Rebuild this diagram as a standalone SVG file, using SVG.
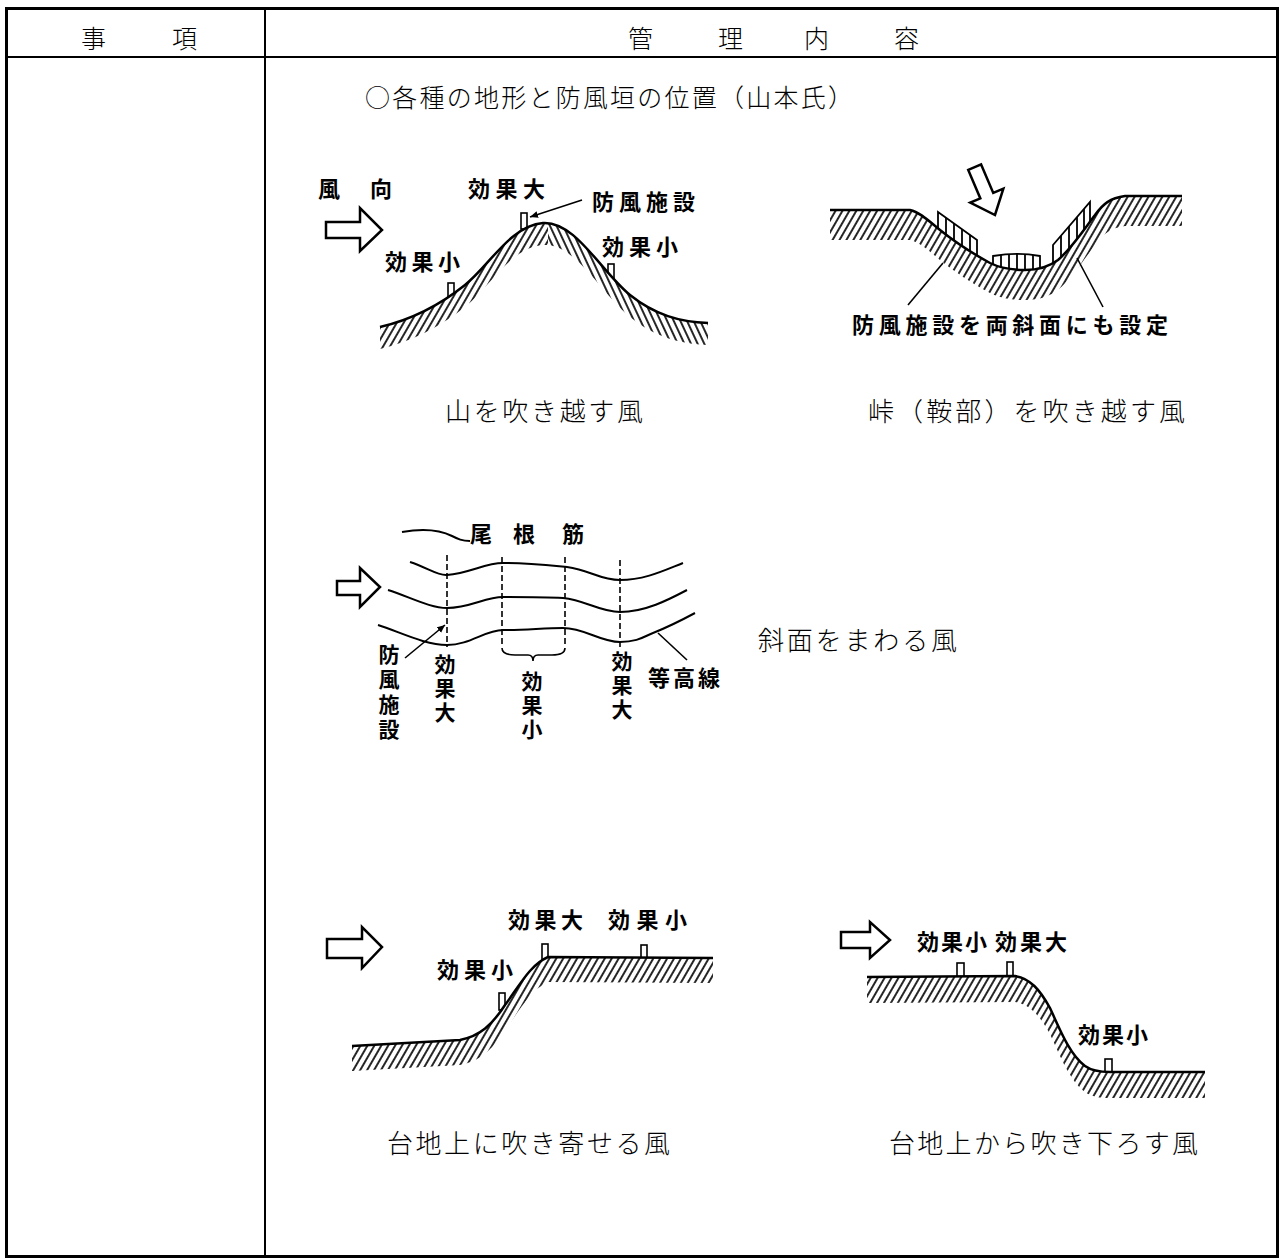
<svg xmlns="http://www.w3.org/2000/svg" width="1279" height="1259" viewBox="0 0 1279 1259">
  <defs>
    <style>
      .rule{fill:none;stroke:#000}
      .hd{font-family:"Noto Sans CJK JP",sans-serif;font-weight:300;font-size:25px}
      .cap{font-family:"Noto Sans CJK JP",sans-serif;font-weight:300;font-size:26px}
      .lbl{font-family:"Noto Sans CJK JP",sans-serif;font-weight:700;font-size:22px}
      .vl{font-family:"Noto Sans CJK JP",sans-serif;font-weight:700;font-size:21px;writing-mode:vertical-rl;letter-spacing:3px}
      .under{fill:#fff}
      .ground{fill:url(#hatch)}
      .ground-r{fill:url(#hatch-r)}
      .surface{fill:none;stroke:#000;stroke-width:2.5;stroke-linejoin:round}
      .post{fill:#fff;stroke:#000;stroke-width:1.6}
      .fence{fill:#fff;stroke:#000;stroke-width:1.8}
      .bar{stroke:#000;stroke-width:1.8}
      .blk{fill:#fff;stroke:#000;stroke-width:2.5;stroke-linejoin:miter}
      .lead{fill:none;stroke:#000;stroke-width:1.6}
      .contour{fill:none;stroke:#000;stroke-width:2}
      .dash{fill:none;stroke:#000;stroke-width:1.6;stroke-dasharray:6 3}
    </style>
    <!-- ground hatching, leaning right (/) and left (\) -->
    <pattern id="hatch" width="6" height="6" patternUnits="userSpaceOnUse" patternTransform="rotate(30)">
      <line x1="1" y1="0" x2="1" y2="6" stroke="#000" stroke-width="1.7"/>
    </pattern>
    <pattern id="hatch-r" width="6" height="6" patternUnits="userSpaceOnUse" patternTransform="rotate(-25)">
      <line x1="1" y1="0" x2="1" y2="6" stroke="#000" stroke-width="1.7"/>
    </pattern>
    <clipPath id="mt-left"><rect x="370" y="200" width="178" height="160"/></clipPath>
    <clipPath id="mt-right"><rect x="548" y="200" width="170" height="160"/></clipPath>
    <marker id="tip" markerWidth="9" markerHeight="8" refX="8" refY="4" orient="auto" markerUnits="userSpaceOnUse">
      <path d="M0,0.5 L8,4 L0,7.5 Z" fill="#000"/>
    </marker>
  </defs>

  <!-- table frame -->
  <g id="table">
    <rect class="rule" x="6.5" y="8.5" width="1271" height="1248" stroke-width="3"/>
    <line class="rule" x1="6" y1="57" x2="1278" y2="57" stroke-width="2"/>
    <line class="rule" x1="265" y1="8" x2="265" y2="1257" stroke-width="2"/>
    <text class="hd" x="81" y="48">事</text>
    <text class="hd" x="172" y="48">項</text>
    <text class="hd" x="628" y="48">管</text>
    <text class="hd" x="718" y="48">理</text>
    <text class="hd" x="804" y="48">内</text>
    <text class="hd" x="894" y="48">容</text>
    <text class="hd" x="365" y="107" textLength="488" lengthAdjust="spacing">○各種の地形と防風垣の位置（山本氏）</text>
  </g>

  <!-- wind crossing over a mountain -->
  <g id="fig-mountain">
    <text class="lbl" x="318" y="197">風</text>
    <text class="lbl" x="370" y="197">向</text>
    <text class="lbl" x="468" y="197" textLength="77" lengthAdjust="spacing">効果大</text>
    <text class="lbl" x="592" y="210" font-size="24" textLength="103" lengthAdjust="spacing">防風施設</text>
    <text class="lbl" x="385" y="270" textLength="75" lengthAdjust="spacing">効果小</text>
    <text class="lbl" x="602" y="255" textLength="76" lengthAdjust="spacing">効果小</text>
    <path class="blk" d="M326,222 L360,222 L360,208 L382,230 L360,251 L360,238 L326,238 Z"/>
    <line class="lead" x1="582" y1="200" x2="530" y2="217" marker-end="url(#tip)"/>
    <rect class="post" x="448" y="283" width="6" height="16"/>
    <rect class="post" x="521" y="213" width="6" height="16"/>
    <rect class="post" x="608" y="264" width="6" height="16"/>
    <path class="under" d="M380,327 C410,320 440,305 465,285 C490,265 510,226 543,223 C575,221 600,270 630,295 C655,315 680,322 708,323 L708,345 C680,344 655,337 630,317 C600,292 575,243 543,245 C510,248 490,287 465,307 C440,327 410,342 380,349 Z"/>
    <path class="ground" clip-path="url(#mt-left)" d="M380,327 C410,320 440,305 465,285 C490,265 510,226 543,223 C575,221 600,270 630,295 C655,315 680,322 708,323 L708,345 C680,344 655,337 630,317 C600,292 575,243 543,245 C510,248 490,287 465,307 C440,327 410,342 380,349 Z"/>
    <path class="ground-r" clip-path="url(#mt-right)" d="M380,327 C410,320 440,305 465,285 C490,265 510,226 543,223 C575,221 600,270 630,295 C655,315 680,322 708,323 L708,345 C680,344 655,337 630,317 C600,292 575,243 543,245 C510,248 490,287 465,307 C440,327 410,342 380,349 Z"/>
    <path class="surface" d="M380,327 C410,320 440,305 465,285 C490,265 510,226 543,223 C575,221 600,270 630,295 C655,315 680,322 708,323"/>
    <text class="cap" x="445" y="421" textLength="198" lengthAdjust="spacing">山を吹き越す風</text>
  </g>

  <!-- wind crossing a mountain pass (saddle) -->
  <g id="fig-saddle">
    <path class="blk" transform="translate(995,215) rotate(67) translate(-52,0)" d="M0,-7 L31,-7 L31,-18 L52,0 L31,18 L31,7 L0,7 Z"/>
    <path class="fence" d="M938,245 L938,212 L977,240 L977,270 Z"/>
    <line class="bar" x1="946" y1="218" x2="946" y2="250"/>
    <line class="bar" x1="954" y1="223" x2="954" y2="255"/>
    <line class="bar" x1="962" y1="229" x2="962" y2="260"/>
    <line class="bar" x1="970" y1="235" x2="970" y2="265"/>
    <path class="fence" d="M993,275 L993,256 C1010,253 1025,253 1040,256 L1040,275 Z"/>
    <line class="bar" x1="1001" y1="255" x2="1001" y2="275"/>
    <line class="bar" x1="1009" y1="254" x2="1009" y2="275"/>
    <line class="bar" x1="1017" y1="254" x2="1017" y2="275"/>
    <line class="bar" x1="1025" y1="254" x2="1025" y2="275"/>
    <line class="bar" x1="1033" y1="255" x2="1033" y2="275"/>
    <path class="fence" d="M1053,275 L1053,245 L1090,202 L1090,240 Z"/>
    <line class="bar" x1="1061" y1="236" x2="1061" y2="268"/>
    <line class="bar" x1="1069" y1="226" x2="1069" y2="260"/>
    <line class="bar" x1="1077" y1="217" x2="1077" y2="253"/>
    <line class="bar" x1="1084" y1="209" x2="1084" y2="246"/>
    <path class="under" d="M830,210 L910,210 C920,212 930,222 940,230 C955,242 970,252 990,263 C1000,268 1010,270 1025,270 C1040,270 1050,266 1058,260 C1072,248 1085,228 1095,215 C1103,204 1110,198 1125,196 L1182,196 L1182,226 L1125,226 C1110,228 1103,234 1095,245 C1085,258 1072,278 1058,290 C1050,296 1040,300 1025,300 C1010,300 1000,298 990,293 C970,282 955,272 940,260 C930,252 920,242 910,240 L830,240 Z"/>
    <path class="ground" d="M830,210 L910,210 C920,212 930,222 940,230 C955,242 970,252 990,263 C1000,268 1010,270 1025,270 C1040,270 1050,266 1058,260 C1072,248 1085,228 1095,215 C1103,204 1110,198 1125,196 L1182,196 L1182,226 L1125,226 C1110,228 1103,234 1095,245 C1085,258 1072,278 1058,290 C1050,296 1040,300 1025,300 C1010,300 1000,298 990,293 C970,282 955,272 940,260 C930,252 920,242 910,240 L830,240 Z"/>
    <path class="surface" d="M830,210 L910,210 C920,212 930,222 940,230 C955,242 970,252 990,263 C1000,268 1010,270 1025,270 C1040,270 1050,266 1058,260 C1072,248 1085,228 1095,215 C1103,204 1110,198 1125,196 L1182,196"/>
    <line class="lead" x1="908" y1="305" x2="943" y2="263"/>
    <line class="lead" x1="1103" y1="307" x2="1077" y2="258"/>
    <text class="lbl" x="852" y="333" font-size="24" textLength="316" lengthAdjust="spacing">防風施設を両斜面にも設定</text>
    <text class="cap" x="868" y="421" textLength="317" lengthAdjust="spacing">峠（鞍部）を吹き越す風</text>
  </g>

  <!-- wind flowing around a slope (plan view with contours) -->
  <g id="fig-contour">
    <path class="contour" d="M402,532 C425,528 440,530 452,536 C458,539 462,541 470,541"/>
    <text class="lbl" x="470 513 562" y="542">尾根筋</text>
    <path class="blk" d="M337,581 L360,581 L360,568 L380,587 L360,607 L360,595 L337,595 Z"/>
    <path class="contour" d="M410,562 C428,568 438,576 447,575 C470,573 485,563 503,563 C525,563 545,565 567,567 C590,570 600,580 620,580 C645,580 665,570 683,563"/>
    <path class="contour" d="M388,590 C410,597 430,608 447,608 C470,608 485,597 503,597 C525,597 545,597 563,598 C585,600 600,612 620,612 C645,612 668,600 687,590"/>
    <path class="contour" d="M378,625 C400,632 425,645 447,645 C470,645 485,630 503,630 C525,630 545,628 563,628 C585,628 600,642 620,642 C638,642 645,636 653,633 C668,627 682,620 695,613"/>
    <line class="dash" x1="447" y1="555" x2="447" y2="647"/>
    <line class="dash" x1="502" y1="557" x2="502" y2="647"/>
    <line class="dash" x1="565" y1="557" x2="565" y2="645"/>
    <line class="dash" x1="620" y1="560" x2="620" y2="647"/>
    <path class="lead" d="M502,648 Q502,655 515,655 L528,655 Q533,655 533,661 Q533,655 538,655 L552,655 Q565,655 565,648"/>
    <line class="lead" x1="405" y1="658" x2="445" y2="625" marker-end="url(#tip)"/>
    <line class="lead" x1="687" y1="660" x2="658" y2="633"/>
    <text class="vl" x="389" y="644" style="letter-spacing:4px">防風施設</text>
    <text class="vl" x="445" y="654">効果大</text>
    <text class="vl" x="532" y="671">効果小</text>
    <text class="vl" x="622" y="651">効果大</text>
    <text class="lbl" x="648" y="686" font-size="21" textLength="72" lengthAdjust="spacing">等高線</text>
    <text class="cap" x="758" y="650" textLength="199" lengthAdjust="spacing">斜面をまわる風</text>
  </g>

  <!-- wind blowing up onto a plateau -->
  <g id="fig-plateau-up">
    <path class="blk" d="M327,939 L362,939 L362,927 L382,947 L362,968 L362,958 L327,958 Z"/>
    <text class="lbl" x="508" y="928" textLength="75" lengthAdjust="spacing">効果大</text>
    <text class="lbl" x="608" y="928" textLength="79" lengthAdjust="spacing">効果小</text>
    <text class="lbl" x="437" y="978" textLength="76" lengthAdjust="spacing">効果小</text>
    <rect class="post" x="542" y="944" width="6" height="18"/>
    <rect class="post" x="641" y="945" width="6" height="16"/>
    <rect class="post" x="499" y="993" width="6" height="17"/>
    <path class="under" d="M352,1046 L460,1040 C480,1036 492,1025 505,1005 C520,985 530,965 548,957 L713,958 L713,983 L548,982 C530,990 520,1010 505,1030 C492,1050 480,1061 460,1065 L352,1071 Z"/>
    <path class="ground" d="M352,1046 L460,1040 C480,1036 492,1025 505,1005 C520,985 530,965 548,957 L713,958 L713,983 L548,982 C530,990 520,1010 505,1030 C492,1050 480,1061 460,1065 L352,1071 Z"/>
    <path class="surface" d="M352,1046 L460,1040 C480,1036 492,1025 505,1005 C520,985 530,965 548,957 L713,958"/>
    <text class="cap" x="387" y="1153" textLength="283" lengthAdjust="spacing">台地上に吹き寄せる風</text>
  </g>

  <!-- wind blowing down off a plateau -->
  <g id="fig-plateau-down">
    <path class="blk" d="M841,932 L870,932 L870,922 L890,940 L870,958 L870,948 L841,948 Z"/>
    <text class="lbl" x="917" y="950" textLength="70" lengthAdjust="spacing">効果小</text>
    <text class="lbl" x="995" y="950" textLength="72" lengthAdjust="spacing">効果大</text>
    <text class="lbl" x="1078" y="1043" textLength="70" lengthAdjust="spacing">効果小</text>
    <rect class="post" x="957" y="963" width="7" height="16"/>
    <rect class="post" x="1007" y="962" width="6" height="16"/>
    <rect class="post" x="1105" y="1059" width="7" height="15"/>
    <path class="under" d="M867,977 L1015,976 C1030,978 1040,990 1050,1008 C1060,1030 1070,1055 1085,1066 C1092,1071 1100,1072 1110,1072 L1205,1072 L1205,1098 L1110,1098 C1100,1098 1092,1097 1085,1092 C1070,1081 1060,1056 1050,1034 C1040,1016 1030,1004 1015,1002 L867,1003 Z"/>
    <path class="ground" d="M867,977 L1015,976 C1030,978 1040,990 1050,1008 C1060,1030 1070,1055 1085,1066 C1092,1071 1100,1072 1110,1072 L1205,1072 L1205,1098 L1110,1098 C1100,1098 1092,1097 1085,1092 C1070,1081 1060,1056 1050,1034 C1040,1016 1030,1004 1015,1002 L867,1003 Z"/>
    <path class="surface" d="M867,977 L1015,976 C1030,978 1040,990 1050,1008 C1060,1030 1070,1055 1085,1066 C1092,1071 1100,1072 1110,1072 L1205,1072"/>
    <text class="cap" x="889" y="1153" textLength="309" lengthAdjust="spacing">台地上から吹き下ろす風</text>
  </g>
</svg>
